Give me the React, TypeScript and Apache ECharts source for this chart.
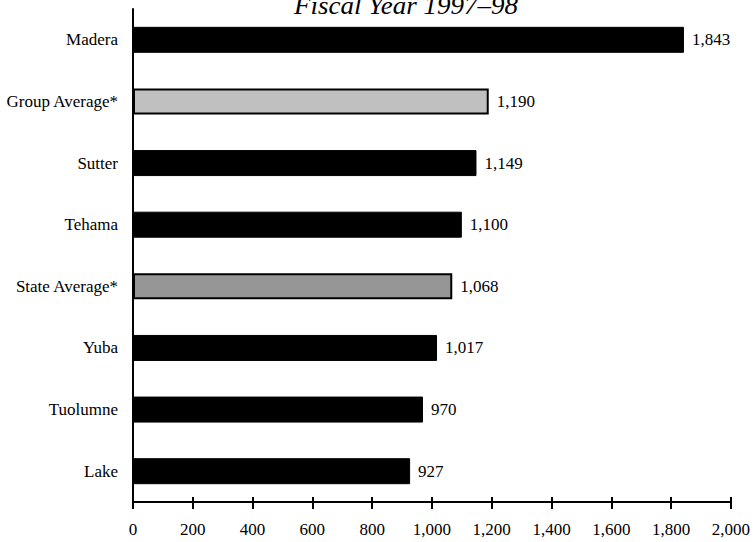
import React, { useEffect, useRef } from "react";
import * as echarts from "echarts";

const categories = ["Madera", "Group Average*", "Sutter", "Tehama", "State Average*", "Yuba", "Tuolumne", "Lake"];
const values = [1843, 1190, 1149, 1100, 1068, 1017, 970, 927];
const fills = ["#000000", "#c0c0c0", "#000000", "#000000", "#969696", "#000000", "#000000", "#000000"];
const xTicks = [0, 200, 400, 600, 800, 1000, 1200, 1400, 1600, 1800, 2000];
const titleText = "Fiscal Year 1997\u201398";

const FONT = "'Liberation Serif', 'Times New Roman', serif";

export default function App() {
  const ref = useRef<HTMLDivElement>(null);
  useEffect(() => {
    if (!ref.current) return;
    const chart = echarts.init(ref.current, null, { renderer: "svg" });
    const fmt = (v: number) => v.toLocaleString("en-US");
    chart.setOption({
      animation: false,
      backgroundColor: "#ffffff",
      textStyle: { fontFamily: FONT },
      graphic: [
        {
          type: "text",
          x: 406,
          y: 6,
          scaleX: 1.08,
          style: {
            text: titleText,
            fontFamily: FONT,
            fontStyle: "italic",
            fontSize: 25,
            fill: "#000",
            align: "center",
            verticalAlign: "middle",
          },
        },
      ],
      grid: { left: 133, right: 22, top: 9, bottom: 40, containLabel: false },
      xAxis: [
        {
          type: "value",
          min: xTicks[0],
          max: xTicks[xTicks.length - 1],
          interval: 200,
          splitLine: { show: false },
          axisLine: { show: true, lineStyle: { color: "#000", width: 2 } },
          axisTick: { show: true, length: 7, lineStyle: { color: "#000", width: 2 } },
          axisLabel: {
            margin: 19,
            color: "#000",
            fontFamily: FONT,
            fontSize: 17,
            formatter: (v: number) => fmt(v),
          },
        },
        {
          type: "value",
          position: "bottom",
          min: xTicks[0],
          max: xTicks[xTicks.length - 1],
          interval: 200,
          splitLine: { show: false },
          axisLine: { show: false },
          axisTick: { show: true, inside: true, length: 5, lineStyle: { color: "#000", width: 2 } },
          axisLabel: { show: false },
        },
      ],
      yAxis: {
        type: "category",
        data: categories,
        inverse: true,
        axisLine: { show: true, lineStyle: { color: "#000", width: 2 } },
        axisTick: { show: false },
        axisLabel: { margin: 15, color: "#000", fontFamily: FONT, fontSize: 17 },
      },
      series: [
        {
          type: "bar",
          xAxisIndex: 0,
          barWidth: 26,
          data: values.map((v, i) => ({
            value: v,
            itemStyle: {
              color: fills[i],
              borderColor: "#000",
              borderWidth: fills[i] === "#000000" ? 1 : 2,
            },
          })),
          label: {
            show: true,
            position: "right",
            distance: 8,
            color: "#000",
            fontFamily: FONT,
            fontSize: 17,
            formatter: (p: any) => fmt(p.value),
          },
        },
      ],
    });
    return () => chart.dispose();
  }, []);
  return <div ref={ref} style={{ width: 753, height: 542, position: "absolute", left: 0, top: 0 }} />;
}
